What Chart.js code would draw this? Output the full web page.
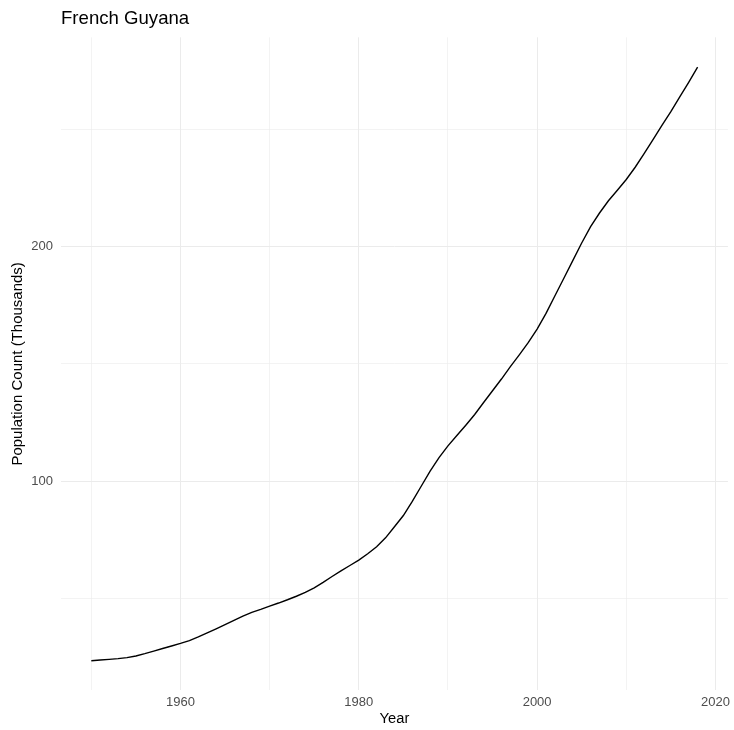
<!DOCTYPE html>
<html>
<head>
<meta charset="utf-8">
<script src="https://cdn.jsdelivr.net/npm/chart.js@4"></script>
<style>
  body { margin: 0; background: #fff; }
  #wrap { width: 734px; height: 730px; }
</style>
</head>
<body>
<div id="wrap"><canvas id="myChart"></canvas></div>
<script>
// data (thousands of people)
const years = [1950,1951,1952,1953,1954,1955,1956,1957,1958,1959,
               1960,1961,1962,1963,1964,1965,1966,1967,1968,1969,
               1970,1971,1972,1973,1974,1975,1976,1977,1978,1979,
               1980,1981,1982,1983,1984,1985,1986,1987,1988,1989,
               1990,1991,1992,1993,1994,1995,1996,1997,1998,1999,
               2000,2001,2002,2003,2004,2005,2006,2007,2008,2009,
               2010,2011,2012,2013,2014,2015,2016,2017,2018];
const population = [23.4,23.7,24.0,24.3,24.7,25.4,26.4,27.5,28.6,29.7,
                    30.8,32.0,33.6,35.3,37.0,38.8,40.6,42.4,44.0,45.3,
                    46.7,48.0,49.4,50.9,52.5,54.5,56.8,59.3,61.7,64.0,
                    66.3,69.0,72.0,75.8,80.5,85.3,91.3,97.8,104.2,110.0,
                    115.0,119.4,123.8,128.4,133.5,138.5,143.5,148.8,153.8,159.0,
                    164.8,171.5,179.0,186.5,194.0,201.5,208.5,214.3,219.5,224.0,
                    228.6,233.8,239.6,245.6,251.7,257.5,263.8,270.0,276.5];
const xTicks = [1950,1960,1970,1980,1990,2000,2010,2020];
const xLabels = [1960,1980,2000,2020];
const yTicks = [50,100,150,200,250];
const yLabels = [100,200];

const FONT = "'Liberation Sans', Arial, sans-serif";

//grid: labelled ticks are major lines, the rest minor
const gridWidth = function(labels){
  return function(ctx){
    if(ctx.tick && labels.indexOf(ctx.tick.value) >= 0) return 1;
    return 0.6;
  };
};

const points = years.map(function(y,i){ return {x: y, y: population[i]}; });

new Chart(document.getElementById('myChart').getContext('2d'), {
  type: 'line',
  data: {
    datasets: [{
      data: points,
      borderColor: '#000000',
      borderWidth: 1.4,
      pointRadius: 0,
      fill: false,
      tension: 0
    }]
  },
  options: {
    responsive: true,
    maintainAspectRatio: false,
    animation: false,
    layout: { padding: { left: 5, right: 5, top: 5, bottom: 0 } },
    plugins: {
      legend: { display: false },
      tooltip: { enabled: false },
      title: {
        display: true,
        text: 'French Guyana',
        align: 'start',
        fullSize: false,
        color: '#000000',
        font: { family: FONT, size: 18.6, weight: 'normal' },
        padding: { top: 3, bottom: 7 }
      }
    },
    scales: {
      x: {
        type: 'linear',
        min: 1946.6,
        max: 2021.4,
        afterBuildTicks: function(scale){
          scale.ticks = xTicks.map(function(v){ return {value: v}; });
        },
        afterFit: function(scale){ scale.height = 39.6; },
        border: { display: false },
        grid: { color: '#ebebeb', lineWidth: gridWidth(xLabels), drawTicks: false },
        ticks: {
          padding: 4,
          color: '#4d4d4d',
          font: { family: FONT, size: 13 },
          maxRotation: 0,
          autoSkip: false,
          callback: function(v){ return xLabels.indexOf(v) >= 0 ? String(v) : ''; }
        },
        title: {
          display: true,
          text: 'Year',
          color: '#000000',
          font: { family: FONT, size: 14.7 },
          padding: { top: 0, bottom: 2 }
        }
      },
      y: {
        min: 10.75,
        max: 289.2,
        afterBuildTicks: function(scale){
          scale.ticks = yTicks.map(function(v){ return {value: v}; });
        },
        afterFit: function(scale){ scale.width = 56; },
        border: { display: false },
        grid: { color: '#ebebeb', lineWidth: gridWidth(yLabels), drawTicks: false },
        ticks: {
          padding: 8,
          color: '#4d4d4d',
          font: { family: FONT, size: 13 },
          autoSkip: false,
          callback: function(v){ return yLabels.indexOf(v) >= 0 ? String(v) : ''; }
        },
        title: {
          display: true,
          text: 'Population Count (Thousands)',
          color: '#000000',
          font: { family: FONT, size: 15 },
          padding: { top: 4, bottom: 0 }
        }
      }
    }
  }
});
</script>
</body>
</html>
